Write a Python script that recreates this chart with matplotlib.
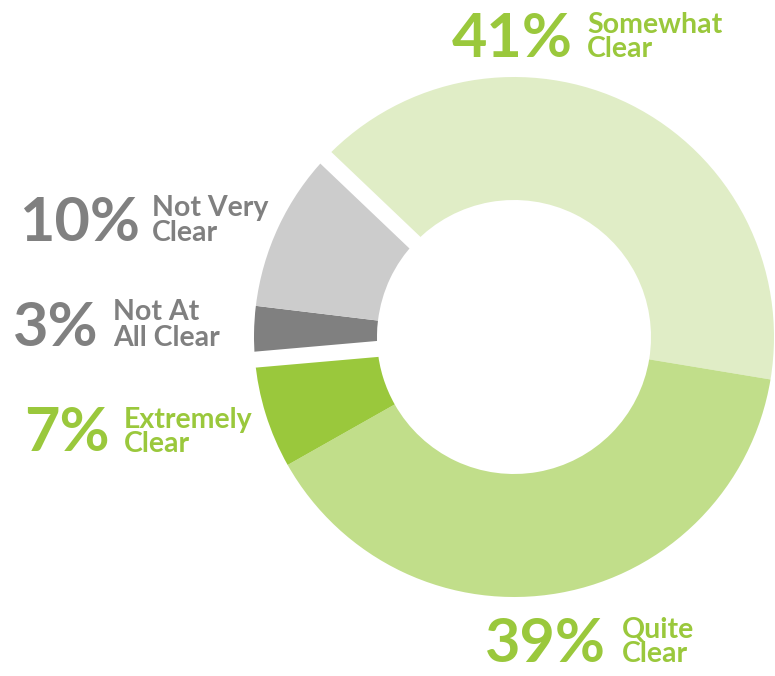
import numpy as np
import matplotlib
matplotlib.use('Agg')
import matplotlib.pyplot as plt

# shares (the printed labels are rounded)
categories = ['Somewhat Clear', 'Quite Clear', 'Extremely Clear', 'Not At All Clear', 'Not Very Clear']
shares = [40.5, 39.2, 6.8, 3.3, 10.2]
pct_labels = ['41%', '39%', '7%', '3%', '10%']
name_lines = [['Somewhat', 'Clear'], ['Quite', 'Clear'], ['Extremely', 'Clear'],
              ['Not At', 'All Clear'], ['Not Very', 'Clear']]

colors = ['#e0edc6', '#c1de8a', '#9ac83c', '#808080', '#cccccc']
text_colors = ['#9ac83c', '#9ac83c', '#9ac83c', '#808080', '#808080']

W, H = 775, 676
fig = plt.figure(figsize=(W / 100, H / 100), dpi=100)
ax = fig.add_axes([0, 0, 1, 1])
ax.set_xlim(0, W)
ax.set_ylim(0, H)
ax.set_aspect('equal')
ax.axis('off')

cx, cy = 514, H - 337
R, r_in = 260, 137
start = 136.4

wedges, _ = ax.pie(shares, colors=colors, startangle=start, counterclock=False,
                   center=(cx, cy), radius=R, frame=True,
                   wedgeprops=dict(width=R - r_in, linewidth=0))
ax.set_xlim(0, W)
ax.set_ylim(0, H)
ax.axis('off')

# white gaps between the green group and the grey group
cum = np.cumsum([0] + shares)
total = cum[-1]
for k in [0, 3]:
    a = np.deg2rad(start - 360 * cum[k] / total)
    ax.plot([cx + (r_in - 5) * np.cos(a), cx + (R + 8) * np.cos(a)],
            [cy + (r_in - 5) * np.sin(a), cy + (R + 8) * np.sin(a)],
            color='white', lw=11.5, solid_capstyle='butt', zorder=5)

# label layout: (number left x, number baseline y, name left x, first line baseline, second line baseline) in px from top
layout = [
    (452, 57, 587, 33, 57),
    (485, 662, 622, 638, 662),
    (24, 451, 124, 428, 452),
    (13, 346, 113, 320, 346),
    (19, 241, 152, 216, 241),
]
num_font = dict(family=['Lato', 'DejaVu Sans'], fontweight='bold', fontsize=44)
name_font = dict(family=['Lato', 'DejaVu Sans'], fontweight='bold', fontsize=20.5)

for i, (nx, ny, tx, ty1, ty2) in enumerate(layout):
    ax.text(nx, H - ny, pct_labels[i], color=text_colors[i], ha='left', va='baseline', **num_font)
    ax.text(tx, H - ty1, name_lines[i][0], color=text_colors[i], ha='left', va='baseline', **name_font)
    ax.text(tx, H - ty2, name_lines[i][1], color=text_colors[i], ha='left', va='baseline', **name_font)

fig.savefig('out.png', dpi=100, facecolor='white')
